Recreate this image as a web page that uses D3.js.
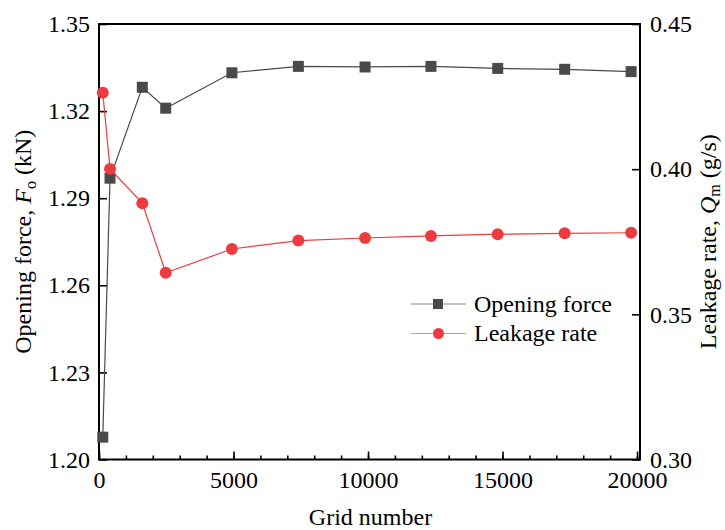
<!DOCTYPE html>
<html>
<head>
<meta charset="utf-8">
<script src="https://cdn.jsdelivr.net/npm/d3@7"></script>
<style>
  html, body { margin: 0; padding: 0; background: #fff; }
  svg text { font-family: "Liberation Serif", "Times New Roman", serif; fill: #000; }
</style>
</head>
<body>
<svg id="chart" width="725" height="530"></svg>
<script>
// Grid-independence study: opening force and leakage rate vs. grid count
const gridNumber   = [140, 410, 1610, 2480, 4940, 7410, 9890, 12340, 14820, 17310, 19780];
const openingForce = [1.2077, 1.2969, 1.3282, 1.3210, 1.3332, 1.3354, 1.3352, 1.3354, 1.3347, 1.3344, 1.3336];
const leakageRate  = [0.4263, 0.4001, 0.3883, 0.3643, 0.3725, 0.3754, 0.3763, 0.3770, 0.3776, 0.3779, 0.3781];

const xTicks      = [0, 5000, 10000, 15000, 20000];
const xMinorTicks = d3.range(0, 20001, 1000);
const forceTicks  = [1.20, 1.23, 1.26, 1.29, 1.32, 1.35];
const leakTicks   = [0.30, 0.35, 0.40, 0.45];
const seriesNames = ["Opening force", "Leakage rate"];

const plotLeft = 99, plotRight = 640, plotTop = 24, plotBottom = 459.5;
const fontSize = 24;
const svg = d3.select("#chart");

const x  = d3.scaleLinear().domain([0, 20110]).range([plotLeft, plotRight]);
const yF = d3.scaleLinear().domain([1.20, 1.35]).range([plotBottom, plotTop]);
const yQ = d3.scaleLinear().domain([0.30, 0.45]).range([plotBottom, plotTop]);

const forceColor = "#4a4a4a";
const leakColor  = "#ee3b40";

// Frame
svg.append("rect")
  .attr("x", plotLeft).attr("y", plotTop)
  .attr("width", plotRight - plotLeft).attr("height", plotBottom - plotTop)
  .attr("fill", "none").attr("stroke", "#000").attr("stroke-width", 2);

function styleAxis(g) {
  g.attr("font-family", null);
  g.select(".domain").remove();
  g.selectAll("line").attr("stroke", "#000").attr("stroke-width", 1.6);
  g.selectAll("text").attr("font-size", fontSize).attr("fill", "#000");
}

// Bottom axis: ticks point into the plot
svg.append("g").attr("transform", `translate(0,${plotBottom})`)
  .call(d3.axisBottom(x).tickValues(xMinorTicks).tickSize(-4).tickFormat(""))
  .call(styleAxis);
svg.append("g").attr("transform", `translate(0,${plotBottom})`)
  .call(d3.axisBottom(x).tickValues(xTicks).tickSize(-8).tickPadding(11.5).tickFormat(d3.format("d")))
  .call(styleAxis);

// Left axis
svg.append("g").attr("transform", `translate(${plotLeft},0)`)
  .call(d3.axisLeft(yF).tickValues(forceTicks).tickSize(-8).tickPadding(9).tickFormat(d3.format(".2f")))
  .call(styleAxis);

// Right axis
svg.append("g").attr("transform", `translate(${plotRight},0)`)
  .call(d3.axisRight(yQ).tickValues(leakTicks).tickSize(-8).tickPadding(10).tickFormat(d3.format(".2f")))
  .call(styleAxis);

// Axis titles
const midY = (plotTop + plotBottom) / 2;
svg.append("text")
  .attr("x", (plotLeft + plotRight) / 2 + 1).attr("y", 525)
  .attr("text-anchor", "middle").attr("font-size", fontSize)
  .text("Grid number");

const leftTitle = svg.append("text")
  .attr("transform", `translate(31,${midY}) rotate(-90)`)
  .attr("text-anchor", "middle").attr("font-size", fontSize);
leftTitle.append("tspan").text("Opening force, ");
leftTitle.append("tspan").attr("font-style", "italic").text("F");
leftTitle.append("tspan").attr("font-size", 16).attr("dy", 5).text("o");
leftTitle.append("tspan").attr("dy", -5).text(" (kN)");

const rightTitle = svg.append("text")
  .attr("transform", `translate(716,${midY}) rotate(-90)`)
  .attr("text-anchor", "middle").attr("font-size", fontSize);
rightTitle.append("tspan").text("Leakage rate, ");
rightTitle.append("tspan").attr("font-style", "italic").text("Q");
rightTitle.append("tspan").attr("font-size", 16).attr("dy", 4).text("m");
rightTitle.append("tspan").attr("dy", -4).text(" (g/s)");

// Series
const forceData = gridNumber.map((g, i) => [g, openingForce[i]]);
const leakData  = gridNumber.map((g, i) => [g, leakageRate[i]]);

svg.append("path").datum(forceData)
  .attr("fill", "none").attr("stroke", forceColor).attr("stroke-width", 1.2)
  .attr("d", d3.line().x(d => x(d[0])).y(d => yF(d[1])));
svg.append("g").selectAll("rect").data(forceData).join("rect")
  .attr("x", d => x(d[0]) - 5.5).attr("y", d => yF(d[1]) - 5.5)
  .attr("width", 11).attr("height", 11).attr("fill", forceColor);

svg.append("path").datum(leakData)
  .attr("fill", "none").attr("stroke", leakColor).attr("stroke-width", 1.2)
  .attr("d", d3.line().x(d => x(d[0])).y(d => yQ(d[1])));
svg.append("g").selectAll("circle").data(leakData).join("circle")
  .attr("cx", d => x(d[0])).attr("cy", d => yQ(d[1]))
  .attr("r", 6).attr("fill", leakColor);

// Legend
const legend = svg.append("g");
const legendItems = [
  { name: seriesNames[0], color: forceColor, line: "#8a8a8a", shape: "square", y: 304 },
  { name: seriesNames[1], color: leakColor, line: "#f08a8c", shape: "circle", y: 333.5 }
];
legendItems.forEach(item => {
  legend.append("line")
    .attr("x1", 411).attr("x2", 466).attr("y1", item.y).attr("y2", item.y)
    .attr("stroke", item.line).attr("stroke-width", 1.2);
  if (item.shape === "square") {
    legend.append("rect").attr("x", 433).attr("y", item.y - 5)
      .attr("width", 10).attr("height", 10).attr("fill", item.color);
  } else {
    legend.append("circle").attr("cx", 438.5).attr("cy", item.y).attr("r", 5.5)
      .attr("fill", item.color);
  }
  legend.append("text").attr("x", 474).attr("y", item.y + 7.5)
    .attr("font-size", fontSize).text(item.name);
});
</script>
</body>
</html>
